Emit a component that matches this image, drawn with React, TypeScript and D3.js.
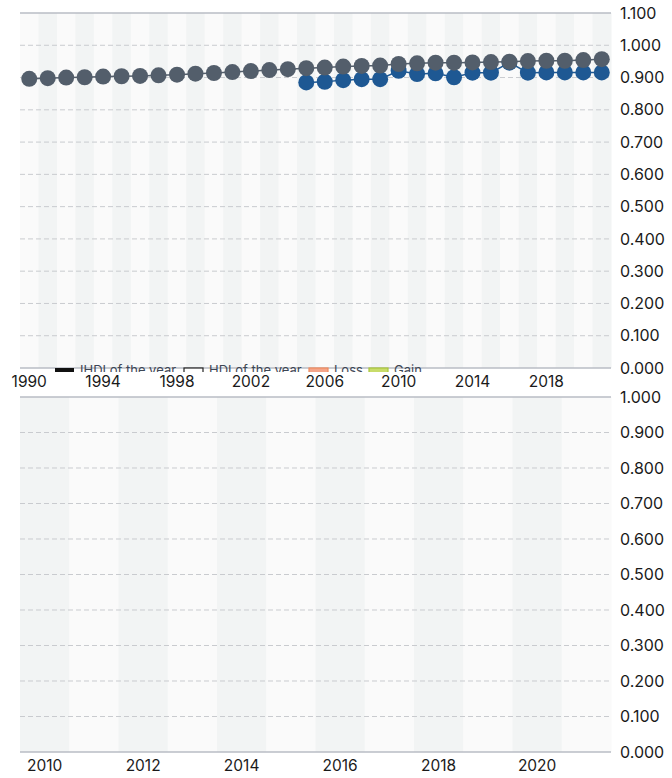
import React from "react";
import * as d3 from "d3";

const years: number[] = d3.range(1990, 2022);
const hdiValues: number[] = [
  0.896, 0.898, 0.9, 0.901, 0.903, 0.904, 0.905, 0.907, 0.909, 0.912, 0.914, 0.917, 0.92, 0.923, 0.926, 0.929,
  0.931, 0.934, 0.936, 0.937, 0.942, 0.944, 0.946, 0.946, 0.947, 0.948, 0.949, 0.951, 0.952, 0.952, 0.954, 0.957,
];
const ihdiYears: number[] = d3.range(2005, 2022);
const ihdiValues: number[] = [
  0.885, 0.887, 0.892, 0.895, 0.895, 0.921, 0.911, 0.913, 0.901, 0.915, 0.915, 0.946, 0.915, 0.916, 0.916, 0.916, 0.916,
];
const topXTicks: number[] = [1990, 1994, 1998, 2002, 2006, 2010, 2014, 2018];
const topYTicks: number[] = [0, 0.1, 0.2, 0.3, 0.4, 0.5, 0.6, 0.7, 0.8, 0.9, 1.0, 1.1];
const bottomYears: number[] = d3.range(2010, 2022);
const bottomXTicks: number[] = [2010, 2012, 2014, 2016, 2018, 2020];
const bottomYTicks: number[] = [0, 0.1, 0.2, 0.3, 0.4, 0.5, 0.6, 0.7, 0.8, 0.9, 1.0];
const legendItems: string[] = ["IHDI of the year", "HDI of the year", "Loss", "Gain"];

const FONT = "Inter, 'Open Sans', sans-serif";
const GREY = "#535e6b";
const BLUE = "#1e5893";
const STRIPE_A = "#fafafa";
const STRIPE_B = "#f2f4f4";
const GRID = "#c9cbcf";
const AXIS = "#b9bdc4";

export default function App() {
  const left = 20;
  const right = 611;

  // top chart
  const xTop = d3.scaleBand<number>().domain(years).range([left, right]);
  const yTop = d3.scaleLinear().domain([0, 1.1]).range([368, 13]);
  const cx = (yr: number) => (xTop(yr) as number) + xTop.bandwidth() / 2;

  const hdiPts = years.map((yr, i) => ({ yr, v: hdiValues[i] }));
  const ihdiPts = ihdiYears.map((yr, i) => ({ yr, v: ihdiValues[i] }));
  const line = d3
    .line<{ yr: number; v: number }>()
    .x((d) => cx(d.yr))
    .y((d) => yTop(d.v));

  // bottom chart
  const xBot = d3.scaleBand<number>().domain(bottomYears).range([left, right]);
  const yBot = d3.scaleLinear().domain([0, 1.0]).range([752, 397]);

  const legendX = [55, 184, 309, 369];
  const legendSw = [
    { fill: "#111", stroke: "none" },
    { fill: "#fff", stroke: "#222" },
    { fill: "#f4a58a", stroke: "#f08a5d" },
    { fill: "#c8dc6a", stroke: "#a9c63a" },
  ];

  return (
    <svg
      width={672}
      height={778}
      style={{ position: "absolute", left: 0, top: 0, background: "#fff" }}
      fontFamily={FONT}
    >
      <defs>
        <clipPath id="legclip">
          <rect x={0} y={355} width={672} height={17} />
        </clipPath>
      </defs>

      {/* ---------- TOP CHART ---------- */}
      {years.map((yr, i) => (
        <rect
          key={"ts" + yr}
          x={xTop(yr)}
          y={yTop(1.1)}
          width={xTop.bandwidth() + 0.5}
          height={yTop(0) - yTop(1.1)}
          fill={i % 2 === 0 ? STRIPE_A : STRIPE_B}
        />
      ))}
      {topYTicks.map((t) => {
        const solid = t === 0 || t === 1.1;
        return (
          <line
            key={"tg" + t}
            x1={left}
            x2={right}
            y1={yTop(t)}
            y2={yTop(t)}
            stroke={solid ? AXIS : GRID}
            strokeWidth={solid ? 1.5 : 1}
            strokeDasharray={solid ? undefined : "5,3"}
          />
        );
      })}
      {topYTicks.map((t) => (
        <text
          key={"ty" + t}
          x={620}
          y={yTop(t)}
          dy="0.35em"
          fontSize={16}
          fill="#1a1a1a"
        >
          {t.toFixed(3)}
        </text>
      ))}

      <path d={line(ihdiPts) || ""} fill="none" stroke={BLUE} strokeWidth={1.5} />
      {ihdiPts.map((d) => (
        <circle key={"ib" + d.yr} cx={cx(d.yr)} cy={yTop(d.v)} r={8} fill={BLUE} />
      ))}
      <path d={line(hdiPts) || ""} fill="none" stroke={GREY} strokeWidth={1.5} />
      {hdiPts.map((d) => (
        <circle key={"hg" + d.yr} cx={cx(d.yr)} cy={yTop(d.v)} r={8} fill={GREY} />
      ))}

      {/* legend (partly hidden) */}
      <g clipPath="url(#legclip)">
        {legendItems.map((name, i) => {
          const x0 = legendX[i];
          return (
            <g key={"lg" + name}>
              <rect
                x={x0}
                y={368}
                width={19}
                height={8}
                fill={legendSw[i].fill}
                stroke={legendSw[i].stroke}
                strokeWidth={1.2}
              />
              <text x={x0 + 25} y={375} fontSize={13} fill="#3d4654">
                {name}
              </text>
            </g>
          );
        })}
      </g>

      {topXTicks.map((yr) => (
        <text
          key={"tx" + yr}
          x={cx(yr)}
          y={387}
          textAnchor="middle"
          fontSize={15.5}
          fill="#1a1a1a"
        >
          {yr}
        </text>
      ))}

      {/* ---------- BOTTOM CHART ---------- */}
      {bottomYears.map((yr, i) => (
        <rect
          key={"bs" + yr}
          x={xBot(yr)}
          y={yBot(1)}
          width={xBot.bandwidth() + 0.5}
          height={yBot(0) - yBot(1)}
          fill={i % 2 === 0 ? STRIPE_B : STRIPE_A}
        />
      ))}
      {bottomYTicks.map((t) => {
        const solid = t === 0 || t === 1;
        return (
          <line
            key={"bg" + t}
            x1={left}
            x2={right}
            y1={yBot(t)}
            y2={yBot(t)}
            stroke={solid ? AXIS : GRID}
            strokeWidth={solid ? 1.5 : 1}
            strokeDasharray={solid ? undefined : "5,3"}
          />
        );
      })}
      {bottomYTicks.map((t) => (
        <text
          key={"by" + t}
          x={620}
          y={yBot(t)}
          dy="0.35em"
          fontSize={16}
          fill="#1a1a1a"
        >
          {t.toFixed(3)}
        </text>
      ))}
      {bottomXTicks.map((yr) => (
        <text
          key={"bx" + yr}
          x={(xBot(yr) as number) + xBot.bandwidth() / 2}
          y={771}
          textAnchor="middle"
          fontSize={15.5}
          fill="#1a1a1a"
        >
          {yr}
        </text>
      ))}
    </svg>
  );
}
